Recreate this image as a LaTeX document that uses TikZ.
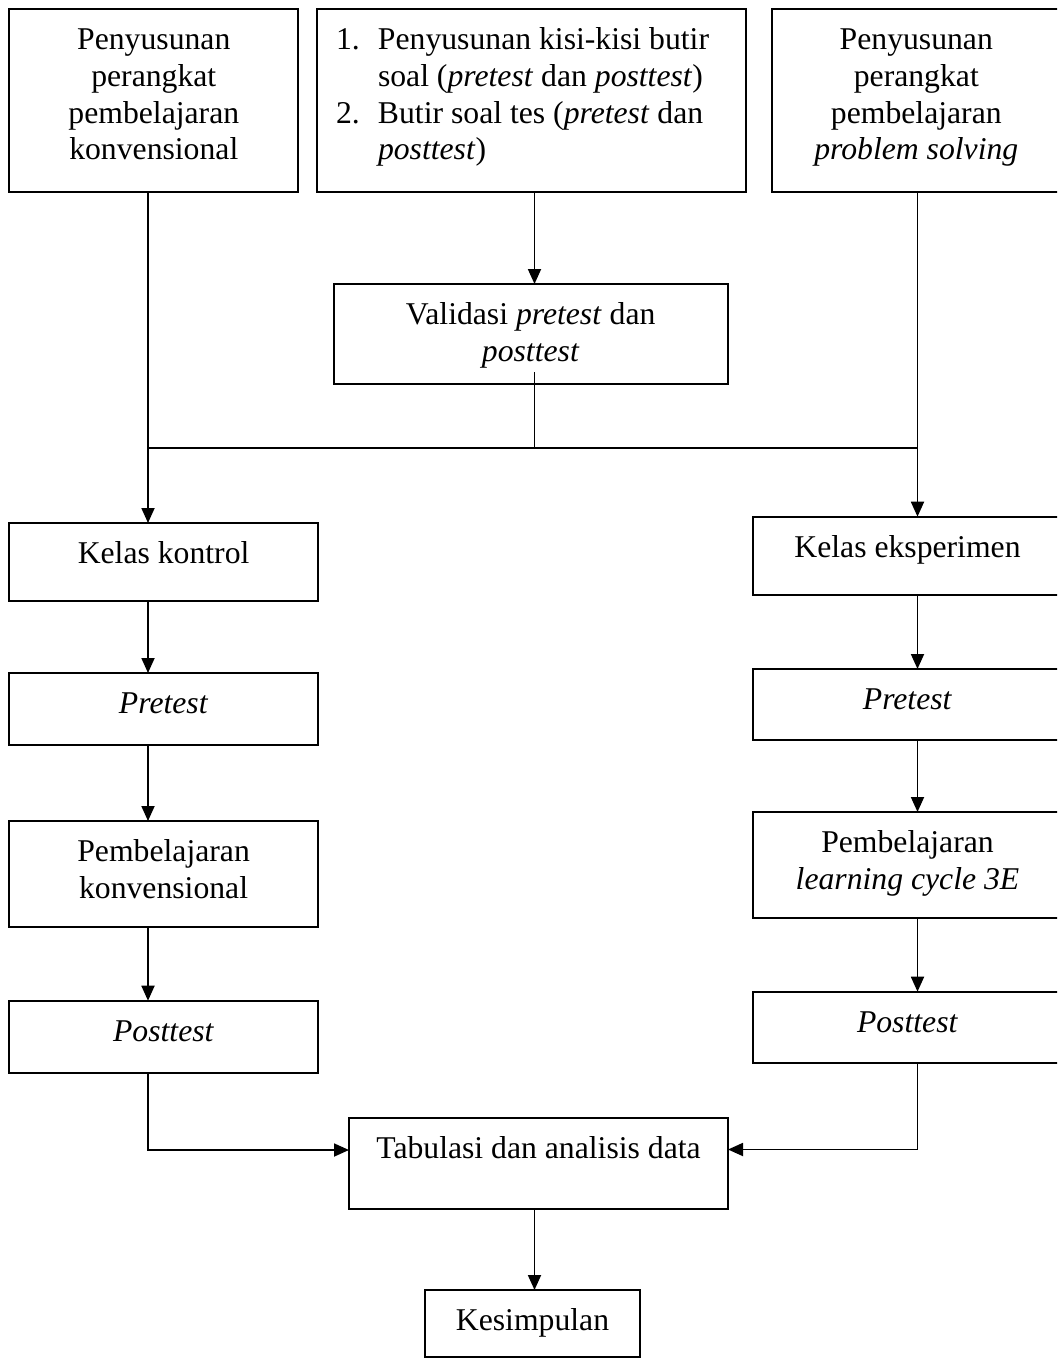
\documentclass[tikz,border=0pt]{standalone}
\usepackage{fontspec}
\setmainfont{Liberation Serif}
\usetikzlibrary{arrows.meta,calc}
\newcommand\tstrut{\rule{0pt}{26pt}}
\begin{document}
\begin{tikzpicture}[x=1pt,y=-1pt,
  box/.style={draw, line width=2pt, inner sep=0pt, outer sep=0pt, anchor=north west},
  txt/.style={inner sep=0pt, outer sep=0pt, font=\fontsize{31.7}{36.7}\selectfont, align=center, anchor=north},
  arr/.style={line width=1.8pt, -{Triangle[length=15pt,width=13pt]}},
  ln/.style={line width=1.8pt}]
\useasboundingbox (0,0) rectangle (1057,1359);
\clip (0,0) rectangle (1057,1359);
\fill[white] (0,0) rectangle (1057,1359);

% top row
\node[box, minimum width=289pt, minimum height=182.4pt] (tl) at (9.3,9.3) {};
\node[txt] (tlt) at (153.8,23.8) {\tstrut Penyusunan\\perangkat\\pembelajaran\\konvensional};

\node[box, minimum width=429.4pt, minimum height=182.4pt] (tm) at (316.8,9.3) {};
\node[txt, align=left, anchor=north west] (tmt) at (336,23.8)
  {\tstrut\makebox[42pt][l]{1.}Penyusunan kisi-kisi butir\\
   \hspace*{42pt}soal (\textit{pretest} dan \textit{posttest})\\
   \makebox[42pt][l]{2.}Butir soal tes (\textit{pretest} dan\\
   \hspace*{42pt}\textit{posttest})};

\node[box, minimum width=289pt, minimum height=182.4pt] (tr) at (771.8,9.3) {};
\node[txt] (trt) at (916.3,23.8) {\tstrut Penyusunan\\perangkat\\pembelajaran\\\textit{problem solving}};

% validation
\node[box, minimum width=394.5pt, minimum height=100pt] (val) at (333.5,284) {};
\node[txt] (valt) at (530.7,298.5) {\tstrut Validasi \textit{pretest} dan\\\textit{posttest}};

% left column
\node[box, minimum width=308.7pt, minimum height=77.7pt] (kk) at (9.3,523) {};
\node[txt] (kkt) at (163.6,537.5) {\tstrut Kelas kontrol};
\node[box, minimum width=308.7pt, minimum height=72pt] (pl) at (9.3,673) {};
\node[txt] (plt) at (163.6,687.5) {\tstrut\textit{Pretest}};
\node[box, minimum width=308.7pt, minimum height=105.7pt] (pbl) at (9.3,821) {};
\node[txt] (pblt) at (163.6,835.5) {\tstrut Pembelajaran\\konvensional};
\node[box, minimum width=308.7pt, minimum height=72pt] (psl) at (9.3,1000.7) {};
\node[txt] (pslt) at (163.6,1015.2) {\tstrut\textit{Posttest}};

% right column
\node[box, minimum width=309pt, minimum height=78.3pt] (ke) at (753,516.7) {};
\node[txt] (ket) at (907.5,531.2) {\tstrut Kelas eksperimen};
\node[box, minimum width=309pt, minimum height=71pt] (pr) at (753,669) {};
\node[txt] (prt) at (907.5,683.5) {\tstrut\textit{Pretest}};
\node[box, minimum width=309pt, minimum height=106pt] (pbr) at (753,812) {};
\node[txt] (pbrt) at (907.5,826.5) {\tstrut Pembelajaran\\\textit{learning cycle 3E}};
\node[box, minimum width=309pt, minimum height=71pt] (psr) at (753,991.7) {};
\node[txt] (psrt) at (907.5,1006.2) {\tstrut\textit{Posttest}};

% bottom
\node[box, minimum width=379pt, minimum height=91pt] (tab) at (349,1118) {};
\node[txt] (tabt) at (538.5,1132.5) {\tstrut Tabulasi dan analisis data};
\node[box, minimum width=215pt, minimum height=67pt] (kes) at (425,1290) {};
\node[txt] (kest) at (532.5,1304.5) {\tstrut Kesimpulan};

% connector coordinates
\coordinate (xl) at (148,0);
\coordinate (xm) at (534.5,0);
\coordinate (xr) at (917.5,0);
\coordinate (jl) at (148,448);
\coordinate (jm) at (534.5,448);
\coordinate (jr) at (917.5,448);
\coordinate (vs) at (534.5,372);
\coordinate (bl) at (148,1150);
\coordinate (br) at (917.5,1149.5);

% connectors
\draw[arr] (tl.south -| xl) -- (kk.north -| xl);
\draw[arr] (tr.south -| xr) -- (ke.north -| xr);
\draw[ln] (jl) -- (jr);
\draw[arr] (tm.south -| xm) -- (val.north -| xm);
\draw[ln] (vs) -- (jm);

\draw[arr] (kk.south -| xl) -- (pl.north -| xl);
\draw[arr] (pl.south -| xl) -- (pbl.north -| xl);
\draw[arr] (pbl.south -| xl) -- (psl.north -| xl);
\draw[arr] (psl.south -| xl) -- (bl) -- (tab.west |- bl);

\draw[arr] (ke.south -| xr) -- (pr.north -| xr);
\draw[arr] (pr.south -| xr) -- (pbr.north -| xr);
\draw[arr] (pbr.south -| xr) -- (psr.north -| xr);
\draw[arr] (psr.south -| xr) -- (br) -- (tab.east |- br);

\draw[arr] (tab.south -| xm) -- (kes.north -| xm);
\end{tikzpicture}
\end{document}
